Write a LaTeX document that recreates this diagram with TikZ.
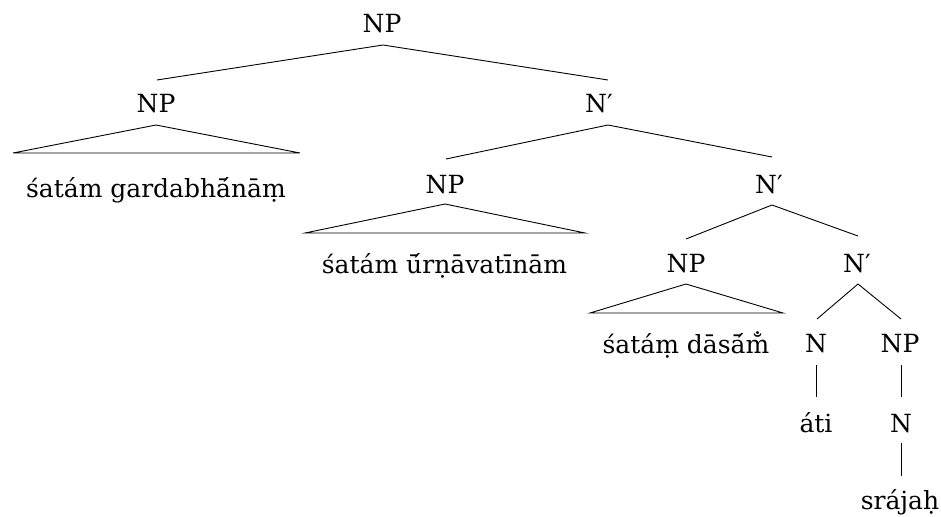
\documentclass[tikz,border=0pt]{standalone}
\usepackage{fontspec}
\setmainfont{DejaVu Serif}
\newfontfamily\treefont{DejaVu Serif}
\begin{document}
\begin{tikzpicture}[x=1pt,y=-1pt,
  lab/.style={anchor=base,inner sep=0pt,font=\treefont\fontsize{25}{30}\selectfont},
  edge/.style={line width=0.9pt,black}]
\useasboundingbox (0,0) rectangle (941,516);
% labels
\node[lab] (np0) at (382,33) {NP};
\node[lab] (np1) at (156,113) {NP};
\node[lab] (nb1) at (599,113) {N′};
\node[lab] (t1) at (156,197) {śatám gardabhā́nāṃ};
\node[lab] (np2) at (445,193) {NP};
\node[lab] (nb2) at (769,193) {N′};
\node[lab] (t2) at (444.5,273) {śatám ū́rṇāvatīnām};
\node[lab] (np3) at (686,272) {NP};
\node[lab] (nb3) at (857,272) {N′};
\node[lab] (t3) at (686,353) {śatáṃ dāsā́m̐};
\node[lab] (n4) at (816,352) {N};
\node[lab] (np4) at (900,352) {NP};
\node[lab] (ati) at (816,432) {áti};
\node[lab] (n5) at (901,432) {N};
\node[lab] (sr) at (900,509) {srájaḥ};
% anchor points for edges
\coordinate (np0b) at (383,45);
\coordinate (np1t) at (157,80);
\coordinate (nb1t) at (608,80);
\coordinate (np1b) at (156,125);
\coordinate (t1l) at (13,153);
\coordinate (t1r) at (300,153);
\coordinate (nb1b) at (608,125);
\coordinate (np2t) at (446,159);
\coordinate (nb2t) at (772,157);
\coordinate (np2b) at (445,204);
\coordinate (t2l) at (305,233);
\coordinate (t2r) at (585,233);
\coordinate (nb2b) at (772,205);
\coordinate (np3t) at (686,239);
\coordinate (nb3t) at (858,236);
\coordinate (np3b) at (686,284);
\coordinate (t3l) at (590,313);
\coordinate (t3r) at (783,313);
\coordinate (nb3b) at (858,284);
\coordinate (n4t) at (817,319);
\coordinate (np4t) at (901,319);
\coordinate (n4b) at (816,365);
\coordinate (atit) at (816,397);
\coordinate (np4b) at (901,365);
\coordinate (n5t) at (901,397);
\coordinate (n5b) at (901,443);
\coordinate (srt) at (901,476);
% edges
\draw[edge] (np1t) -- (np0b) -- (nb1t);
\draw[edge] (np1b) -- (t1l) -- (t1r) -- cycle;
\draw[edge] (np2t) -- (nb1b) -- (nb2t);
\draw[edge] (np2b) -- (t2l) -- (t2r) -- cycle;
\draw[edge] (np3t) -- (nb2b) -- (nb3t);
\draw[edge] (np3b) -- (t3l) -- (t3r) -- cycle;
\draw[edge] (n4t) -- (nb3b) -- (np4t);
\draw[edge] (n4b) -- (atit);
\draw[edge] (np4b) -- (n5t);
\draw[edge] (n5b) -- (srt);
\end{tikzpicture}
\end{document}
